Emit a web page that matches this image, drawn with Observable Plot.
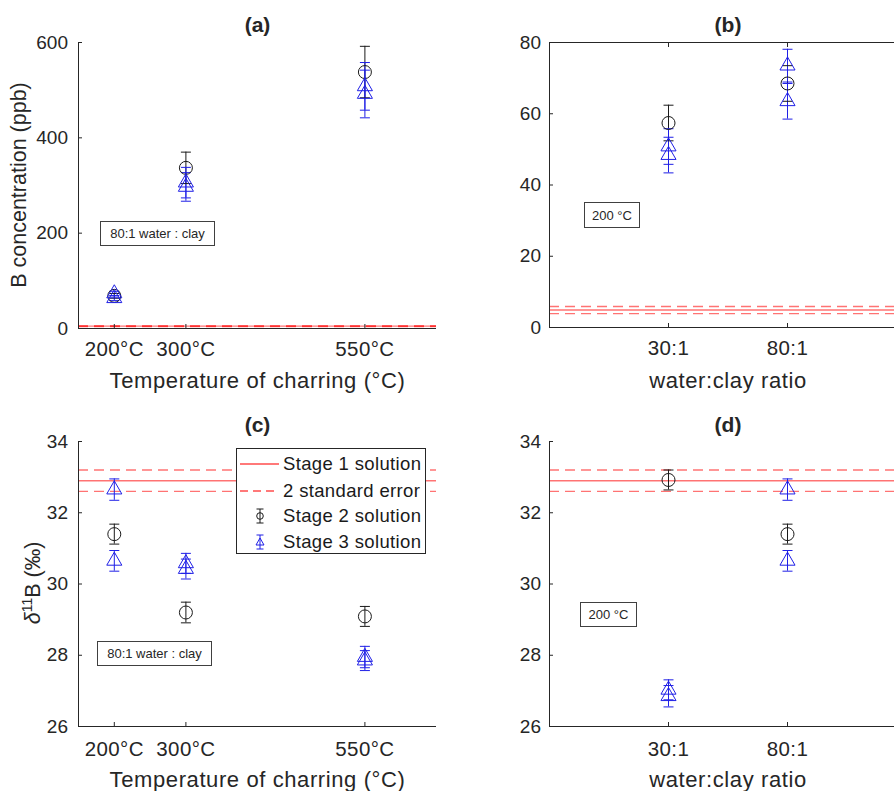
<!DOCTYPE html>
<html>
<head>
<meta charset="utf-8">
<script src="https://cdn.jsdelivr.net/npm/d3@7"></script>
<script src="https://cdn.jsdelivr.net/npm/@observablehq/plot@0.6"></script>
<style>
  html, body { margin: 0; padding: 0; background: #fff; overflow: hidden; }
  #root { position: relative; width: 894px; height: 791px; font-family: "Liberation Sans", Arial, Helvetica, sans-serif; color: #262626; }
  .panel { position: absolute; }
  .panel svg { overflow: hidden; }
  .xlab text { letter-spacing: 0.6px; }
  .xticks text { letter-spacing: 0.4px; }
  .note { position: absolute; border: 1px solid #404040; background: #fff; font-size: 13px; display: flex; align-items: center; justify-content: center; box-sizing: border-box; white-space: nowrap; }
  .ylab { position: absolute; font-size: 21.5px; transform: translate(-50%, -50%) rotate(-90deg); white-space: nowrap; line-height: 1; }
  .ylab sup { font-size: 14px; }
</style>
</head>
<body>
<div id="root"></div>
<script>
// ---------------- data ----------------
const temperatures = [200, 300, 550];          // °C (panels a, c)
const ratioLabels = ["30:1", "80:1"];          // water:clay (panels b, d)

// Stage 1 solution (red lines) and its 2 standard error
const stage1Conc = 4.9, stage1ConcSE = 1.0;       // ppb
const stage1D11B = 32.9, stage1D11BSE = 0.3;      // ‰

// (a) B concentration vs temperature (80:1 water:clay)
const concStage2 = [68.5, 337, 538];
const concStage2Err = [5, 33, 54];
const concStage3A = [73.5, 306, 508];
const concStage3AErr = [4.6, 32, 50];
const concStage3B = [63.5, 297, 492];
const concStage3BErr = [5, 30, 50];

// (b) B concentration vs water:clay ratio (200 °C)
const ratioConcStage2 = [57.4, 68.5];
const ratioConcStage2Err = [5, 5];
const ratioConcStage3A = [50.8, 73.5];
const ratioConcStage3AErr = [5, 4.6];
const ratioConcStage3B = [48.4, 63.5];
const ratioConcStage3BErr = [5, 5];

// (c) δ11B vs temperature (80:1 water:clay)
const d11BStage2 = [31.4, 29.2, 29.09];
const d11BStage2Err = [0.28, 0.29, 0.28];
const d11BStage3A = [32.65, 30.58, 27.95];
const d11BStage3AErr = [0.3, 0.28, 0.3];
const d11BStage3B = [30.65, 30.42, 27.85];
const d11BStage3BErr = [0.29, 0.28, 0.28];

// (d) δ11B vs water:clay ratio (200 °C)
const ratioD11BStage2 = [32.92, 31.4];
const ratioD11BStage2Err = [0.28, 0.28];
const ratioD11BStage3A = [27.03, 32.65];
const ratioD11BStage3AErr = [0.28, 0.3];
const ratioD11BStage3B = [26.85, 30.65];
const ratioD11BStage3BErr = [0.3, 0.29];

const concTicks = [0, 200, 400, 600];
const ratioConcTicks = [0, 20, 40, 60, 80];
const d11BTicks = [26, 28, 30, 32, 34];
const legendLabels = ["Stage 1 solution", "2 standard error", "Stage 2 solution", "Stage 3 solution"];

// ---------------- helpers ----------------
const INK = "#262626", BLACK = "#1a1a1a", BLUE = "#1f1fe6", RED = "#ff0000";
const ratioPos = ratioLabels.map((_, i) => i + 1);

function series(xs, ys, errs, stage) {
  return ys.map((y, i) => ({x: xs[i], y, err: errs[i], stage}));
}
const cap = {
  draw(ctx, size) {
    const w = Math.sqrt(size / Math.PI);
    ctx.moveTo(-w, 0); ctx.lineTo(w, 0);
  }
};

function makePanel(o) {
  const rows = o.rows;
  const s2 = rows.filter(d => d.stage === 2), s3 = rows.filter(d => d.stage === 3);
  const col = d => d.stage === 2 ? BLACK : BLUE;
  const marks = [
    Plot.ruleY([o.stage1], {stroke: RED, strokeOpacity: 0.55, strokeWidth: 1.4}),
    Plot.ruleY([o.stage1 - o.se, o.stage1 + o.se], {stroke: RED, strokeOpacity: 0.55, strokeWidth: 1.4, strokeDasharray: "10,6"}),
    Plot.ruleX([o.xDomain[0]], {stroke: INK}),
    Plot.ruleY([o.yDomain[0]], {stroke: INK})
  ];
  if (o.topLine) {
    marks.push(
      Plot.ruleY([o.yDomain[1]], {stroke: INK}),
      Plot.axisX({anchor: "top", ticks: o.xTicks, tickSize: -4, tickFormat: () => "", label: null})
    );
  }
  marks.push(
    Plot.axisX({anchor: "bottom", ticks: o.xTicks, tickFormat: o.xFormat, tickSize: -4, tickPadding: o.xPad, label: null, fontSize: 20.5, className: "xticks"}),
    Plot.axisY({anchor: "left", ticks: o.yTicks, tickSize: -4, tickPadding: o.yPad, label: null, fontSize: 19}),
    Plot.ruleX(rows, {x: "x", y1: d => d.y - d.err, y2: d => d.y + d.err, stroke: col, strokeWidth: 1}),
    Plot.dot(rows, {x: "x", y: d => d.y + d.err, symbol: cap, r: 5, stroke: col, fill: "none", strokeWidth: 1}),
    Plot.dot(rows, {x: "x", y: d => d.y - d.err, symbol: cap, r: 5, stroke: col, fill: "none", strokeWidth: 1}),
    Plot.dot(s2, {x: "x", y: "y", r: 6.5, stroke: BLACK, fill: "none", strokeWidth: 1}),
    Plot.dot(s3, {x: "x", y: "y", symbol: "triangle", r: 5.6, stroke: BLUE, fill: "none", strokeWidth: 1}),
    Plot.text([o.title], {text: d => d, frameAnchor: "top", dy: o.titleDy, lineAnchor: "middle", fontSize: 21, fontWeight: "bold", fill: INK}),
    Plot.text([o.xLabel], {text: d => d, frameAnchor: "bottom", dy: o.xLabelDy, lineAnchor: "middle", fontSize: 22, fill: INK, className: "xlab"})
  );
  return Plot.plot({
    width: 447, height: o.height,
    marginLeft: o.ml, marginRight: o.mr, marginTop: o.mt, marginBottom: o.mb,
    x: {type: "linear", domain: o.xDomain},
    y: {type: "linear", domain: o.yDomain},
    style: {fontFamily: '"Liberation Sans", Arial, Helvetica, sans-serif', color: INK, background: "transparent", overflow: "hidden"},
    marks
  });
}

const root = document.getElementById("root");
function place(el, left, top) {
  const w = document.createElement("div");
  w.className = "panel";
  w.style.left = left + "px"; w.style.top = top + "px";
  w.appendChild(el);
  root.appendChild(w);
}

// (a)
place(makePanel({
  rows: [
    ...series(temperatures, concStage2, concStage2Err, 2),
    ...series(temperatures, concStage3A, concStage3AErr, 3),
    ...series(temperatures, concStage3B, concStage3BErr, 3)
  ],
  stage1: stage1Conc, se: stage1ConcSE,
  xDomain: [150, 650], yDomain: [0, 600], xTicks: temperatures, xFormat: d => d + "°C", yTicks: concTicks,
  height: 395, ml: 78, mr: 11, mt: 42, mb: 67, xPad: 17, yPad: 14.5,
  title: "(a)", titleDy: -17, xLabel: "Temperature of charring (°C)", xLabelDy: 52
}), 0, 0);

// (b)
place(makePanel({
  rows: [
    ...series(ratioPos, ratioConcStage2, ratioConcStage2Err, 2),
    ...series(ratioPos, ratioConcStage3A, ratioConcStage3AErr, 3),
    ...series(ratioPos, ratioConcStage3B, ratioConcStage3BErr, 3)
  ],
  stage1: stage1Conc, se: stage1ConcSE,
  xDomain: [0, 3], yDomain: [0, 80], xTicks: ratioPos, xFormat: d => ratioLabels[d - 1], yTicks: ratioConcTicks,
  height: 395, ml: 102, mr: -12, mt: 42, mb: 68, xPad: 17, yPad: 12.5, topLine: true,
  title: "(b)", titleDy: -17, xLabel: "water:clay ratio", xLabelDy: 53
}), 447, 0);

// (c)
place(makePanel({
  rows: [
    ...series(temperatures, d11BStage2, d11BStage2Err, 2),
    ...series(temperatures, d11BStage3A, d11BStage3AErr, 3),
    ...series(temperatures, d11BStage3B, d11BStage3BErr, 3)
  ],
  stage1: stage1D11B, se: stage1D11BSE,
  xDomain: [150, 650], yDomain: [26, 34], xTicks: temperatures, xFormat: d => d + "°C", yTicks: d11BTicks,
  height: 396, ml: 78, mr: 11, mt: 46, mb: 65, xPad: 19, yPad: 14.5,
  title: "(c)", titleDy: -16, xLabel: "Temperature of charring (°C)", xLabelDy: 53
}), 0, 395);

// (d)
place(makePanel({
  rows: [
    ...series(ratioPos, ratioD11BStage2, ratioD11BStage2Err, 2),
    ...series(ratioPos, ratioD11BStage3A, ratioD11BStage3AErr, 3),
    ...series(ratioPos, ratioD11BStage3B, ratioD11BStage3BErr, 3)
  ],
  stage1: stage1D11B, se: stage1D11BSE,
  xDomain: [0, 3], yDomain: [26, 34], xTicks: ratioPos, xFormat: d => ratioLabels[d - 1], yTicks: d11BTicks,
  height: 396, ml: 102, mr: -12, mt: 46, mb: 65, xPad: 19, yPad: 12.5,
  title: "(d)", titleDy: -16, xLabel: "water:clay ratio", xLabelDy: 53
}), 447, 395);

// y-axis labels
function ylab(html, cx, cy) {
  const d = document.createElement("div");
  d.className = "ylab";
  d.innerHTML = html;
  d.style.left = cx + "px"; d.style.top = cy + "px";
  root.appendChild(d);
}
ylab("B concentration (ppb)", 20, 185);
ylab('<i>δ</i><sup>11</sup>B (‰)', 32, 583);

// annotation boxes
function note(text, left, top, w, h) {
  const d = document.createElement("div");
  d.className = "note";
  d.textContent = text;
  Object.assign(d.style, {left: left + "px", top: top + "px", width: w + "px", height: h + "px"});
  root.appendChild(d);
}
note("80:1 water : clay", 100, 221, 115, 25);
note("200 °C", 584, 202, 56, 26);
note("80:1 water : clay", 97, 641, 115, 25);
note("200 °C", 580, 602, 57, 25);

// legend (panel c)
(function legend() {
  const W = 190, H = 106;
  const svg = d3.create("svg").attr("width", W).attr("height", H)
    .style("position", "absolute").style("left", "236px").style("top", "448px");
  svg.append("rect").attr("x", 0.5).attr("y", 0.5).attr("width", W - 1).attr("height", H - 1)
    .attr("fill", "#fff").attr("stroke", "#262626").attr("stroke-width", 1);
  const rowY = [16, 43, 68, 94];
  const g = svg.selectAll("g.row").data(legendLabels).join("g").attr("transform", (d, i) => `translate(0,${rowY[i]})`);
  g.append("text").attr("x", 47).attr("dy", "0.35em").attr("font-size", 18.5).attr("fill", "#1a1a1a")
    .attr("letter-spacing", "0.35px")
    .attr("font-family", '"Liberation Sans", Arial, sans-serif').text(d => d);
  const s1 = g.filter((d, i) => i === 0);
  s1.append("line").attr("x1", 4).attr("x2", 43).attr("stroke", RED).attr("stroke-opacity", 0.7).attr("stroke-width", 1.3);
  const s2 = g.filter((d, i) => i === 1);
  s2.append("line").attr("x1", 4).attr("x2", 43).attr("stroke", RED).attr("stroke-opacity", 0.7).attr("stroke-width", 1.3).attr("stroke-dasharray", "8,5");
  [[2, BLACK], [3, BLUE]].forEach(([idx, c]) => {
    const r = g.filter((d, i) => i === idx);
    r.append("line").attr("x1", 24).attr("x2", 24).attr("y1", -7).attr("y2", 7).attr("stroke", c);
    r.append("line").attr("x1", 20.5).attr("x2", 27.5).attr("y1", -7).attr("y2", -7).attr("stroke", c);
    r.append("line").attr("x1", 20.5).attr("x2", 27.5).attr("y1", 7).attr("y2", 7).attr("stroke", c);
    if (idx === 2) r.append("circle").attr("cx", 24).attr("r", 3.3).attr("fill", "none").attr("stroke", c);
    else r.append("path").attr("d", "M24,-4L28,3L20,3Z").attr("fill", "none").attr("stroke", c);
  });
  root.appendChild(svg.node());
})();
</script>
</body>
</html>
